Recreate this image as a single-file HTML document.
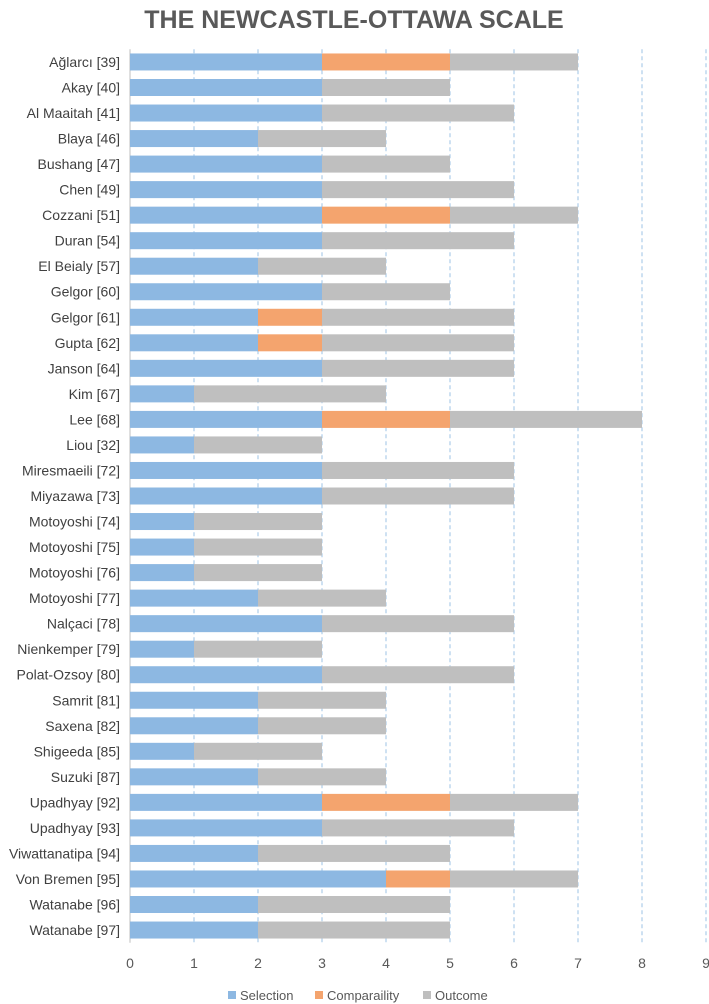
<!DOCTYPE html>
<html><head><meta charset="utf-8"><style>
body{margin:0;background:#fff;}
svg{display:block;font-family:"Liberation Sans",sans-serif;}
</style></head><body>
<svg id="chart" width="709" height="1004">
<text x="354" y="28" text-anchor="middle" font-size="25" font-weight="bold" fill="#595959">THE NEWCASTLE-OTTAWA SCALE</text>
<g id="grid"></g><g id="bars"></g><g id="labels"></g>
<g>
<rect x="228" y="991" width="8" height="8" fill="#8db8e2"/>
<text x="240" y="1000" font-size="13" fill="#595959">Selection</text>
<rect x="315" y="991" width="8" height="8" fill="#f4a46e"/>
<text x="327" y="1000" font-size="13" fill="#595959">Comparaility</text>
<rect x="423" y="991" width="8" height="8" fill="#bfbfbf"/>
<text x="435" y="1000" font-size="13" fill="#595959">Outcome</text>
</g>
</svg>
<script>
const studies=["Ağlarcı [39]","Akay [40]","Al Maaitah [41]","Blaya [46]","Bushang [47]","Chen [49]","Cozzani [51]","Duran [54]","El Beialy [57]","Gelgor [60]","Gelgor [61]","Gupta [62]","Janson [64]","Kim [67]","Lee [68]","Liou [32]","Miresmaeili [72]","Miyazawa [73]","Motoyoshi [74]","Motoyoshi [75]","Motoyoshi [76]","Motoyoshi [77]","Nalçaci [78]","Nienkemper [79]","Polat-Ozsoy [80]","Samrit [81]","Saxena [82]","Shigeeda [85]","Suzuki [87]","Upadhyay [92]","Upadhyay [93]","Viwattanatipa [94]","Von Bremen [95]","Watanabe [96]","Watanabe [97]"];
const selection=[3,3,3,2,3,3,3,3,2,3,2,2,3,1,3,1,3,3,1,1,1,2,3,1,3,2,2,1,2,3,3,2,4,2,2];
const comparability=[2,0,0,0,0,0,2,0,0,0,1,1,0,0,2,0,0,0,0,0,0,0,0,0,0,0,0,0,0,2,0,0,1,0,0];
const outcome=[2,2,3,2,2,3,2,3,2,2,3,3,3,3,3,2,3,3,2,2,2,2,3,2,3,2,2,2,2,2,3,3,2,3,3];
const ticks=[0,1,2,3,4,5,6,7,8,9];
const NS="http://www.w3.org/2000/svg";
const x0=130,unit=64,plotTop=49.2,plotBottom=942.8,band=(plotBottom-plotTop)/studies.length,bh=17;
const X=v=>x0+v*unit, Y=i=>plotTop+band*i+band/2;
function mk(t,a,p){const e=document.createElementNS(NS,t);for(const k in a)e.setAttribute(k,a[k]);p.appendChild(e);return e;}
const grid=document.getElementById('grid'),bars=document.getElementById('bars'),labels=document.getElementById('labels');
ticks.forEach(t=>{
 const l=mk('line',{x1:X(t),x2:X(t),y1:plotTop,y2:plotBottom,stroke:t===0?'#bfbfbf':'#9dc3e6','stroke-dasharray':t===0?'none':'4,3','stroke-width':1},grid);
 
 
 const tx=mk('text',{x:X(t),y:plotBottom+25,'text-anchor':'middle','font-size':14,fill:'#595959'},labels);
 tx.textContent=t;
 
 
});
studies.forEach((s,i)=>{
 const y=Y(i)-bh/2;
 const segs=[[selection[i],'#8db8e2','selection'],[comparability[i],'#f4a46e','comparability'],[outcome[i],'#bfbfbf','outcome']];
 let acc=0;
 segs.forEach(([v,c,n])=>{
  if(v>0){
   const r=mk('rect',{x:X(acc),y:y,width:v*unit,height:bh,fill:c},bars);
   
   
  }
  acc+=v;
 });
 const t=mk('text',{x:x0-10,y:Y(i)+5,'text-anchor':'end','font-size':14,fill:'#404040'},labels);
 t.textContent=s;
 
 
});
</script>
</body></html>
